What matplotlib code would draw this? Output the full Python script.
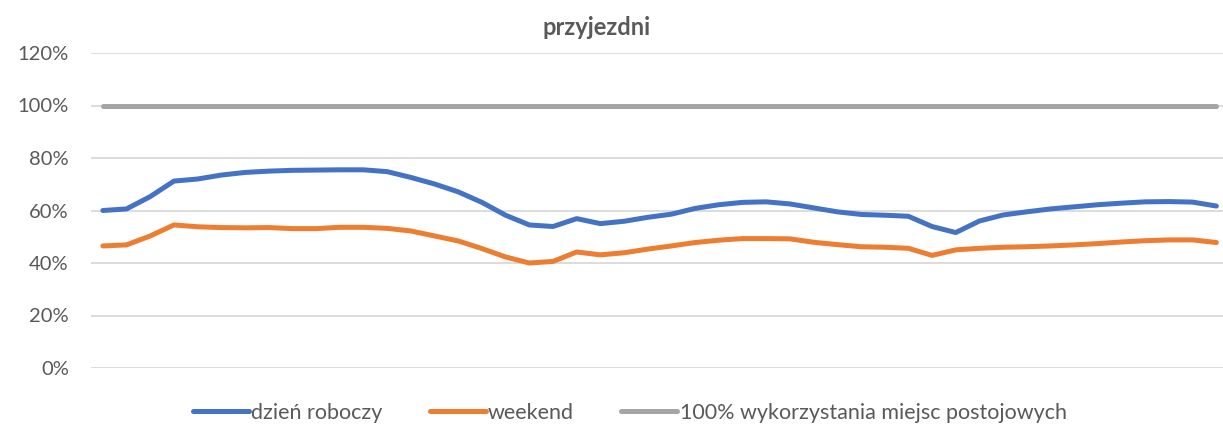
import numpy as np
import matplotlib.pyplot as plt
from matplotlib.ticker import FuncFormatter

plt.rcParams['font.family'] = ['Lato', 'DejaVu Sans']

# values in % for 48 half-hour slots
dzien_roboczy = [60.0, 60.6, 65.3, 71.2, 72.0, 73.5, 74.5, 75.0, 75.3, 75.4, 75.5, 75.5,
                 74.8, 72.6, 70.1, 67.1, 63.1, 58.2, 54.5, 53.9, 56.9, 55.0, 55.9, 57.4,
                 58.6, 60.8, 62.2, 63.1, 63.3, 62.5, 61.0, 59.5, 58.5, 58.2, 57.8, 53.9,
                 51.6, 56.0, 58.3, 59.5, 60.6, 61.4, 62.2, 62.8, 63.3, 63.4, 63.2, 61.7]
weekend = [46.5, 46.9, 50.3, 54.5, 53.8, 53.5, 53.4, 53.5, 53.1, 53.1, 53.6, 53.6,
           53.2, 52.2, 50.3, 48.4, 45.5, 42.3, 40.0, 40.6, 44.2, 43.1, 43.9, 45.3,
           46.5, 47.8, 48.7, 49.3, 49.3, 49.2, 47.9, 47.0, 46.2, 46.0, 45.6, 42.9,
           45.0, 45.6, 46.0, 46.2, 46.5, 46.9, 47.4, 48.0, 48.5, 48.8, 48.8, 47.8]
limit = [100.0] * 48
labels = ['dzień roboczy', 'weekend', '100% wykorzystania miejsc postojowych']
colors = ['#4472C4', '#ED7D31', '#A5A5A5']

x = np.arange(len(dzien_roboczy))

fig = plt.figure(figsize=(12.23, 4.30), dpi=100)
ax = fig.add_axes([91 / 1223, 62 / 430, 1 - 91 / 1223, (368 - 53) / 430])

for series, lab, col in zip([dzien_roboczy, weekend, limit], labels, colors):
    ax.plot(x, series, color=col, lw=3.6, label=lab, solid_capstyle='round',
            solid_joinstyle='round', zorder=3)

ax.set_xlim(-0.5, 47.28)
ax.set_ylim(0, 120)
ax.set_yticks(np.arange(0, 121, 20))
ax.yaxis.set_major_formatter(FuncFormatter(lambda v, p: f'{v:.0f}%'))
ax.set_xticks([])
ax.grid(axis='y', color='#D9D9D9', lw=1.3, zorder=0)
for s in ax.spines.values():
    s.set_visible(False)
ax.tick_params(axis='y', length=0, pad=16, labelsize=14.5, labelcolor='#595959')

fig.text(0.488, 0.935, 'przyjezdni', ha='center', va='center', fontsize=17,
         fontweight='bold', color='#595959')

fig.legend(loc='center', bbox_to_anchor=(0.515, 0.04), ncol=3, frameon=False,
           fontsize=15.5, handlelength=2.6, handletextpad=0.1, columnspacing=2.2,
           labelcolor='#595959')

fig.savefig('out.png', dpi=100)
